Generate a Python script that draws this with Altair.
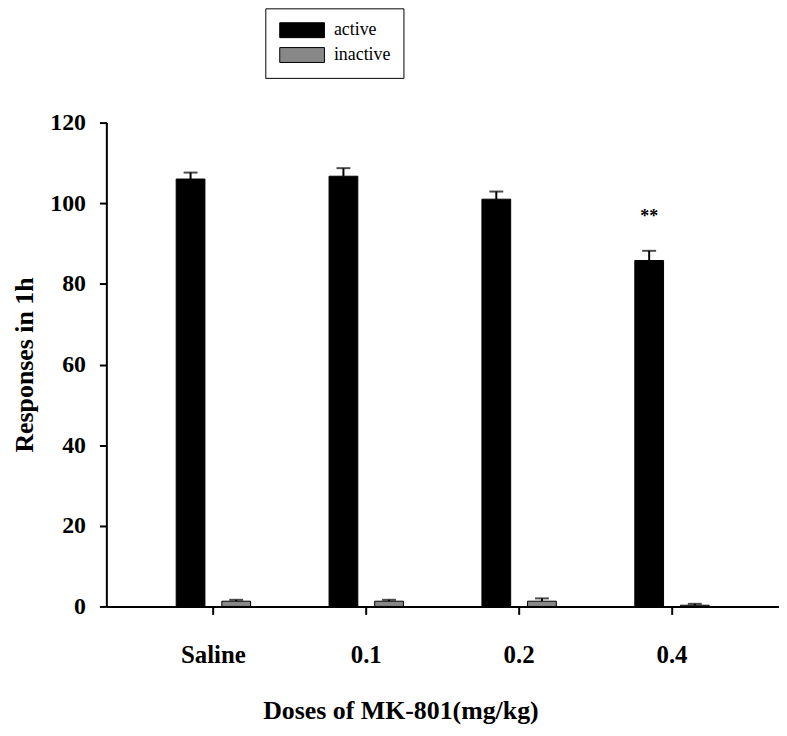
import altair as alt
import pandas as pd

doses = ["Saline", "0.1", "0.2", "0.4"]
types = ["active", "inactive"]
active_mean = [106.0, 106.7, 101.0, 85.8]
active_sem = [1.6, 2.0, 1.9, 2.4]
inactive_mean = [1.3, 1.3, 1.3, 0.3]
inactive_sem = [0.35, 0.35, 0.7, 0.35]
sig_dose = ["0.4"]
sig_label = ["**"]
sig_y = [96.7]

rows = []
for i, d in enumerate(doses):
    rows.append({"dose": d, "type": "active", "mean": active_mean[i],
                 "upper": active_mean[i] + active_sem[i]})
    rows.append({"dose": d, "type": "inactive", "mean": inactive_mean[i],
                 "upper": inactive_mean[i] + inactive_sem[i]})
df = pd.DataFrame(rows)
sig_df = pd.DataFrame({"dose": sig_dose, "type": ["active"], "y": sig_y, "label": sig_label})

FONT = "Liberation Serif"

x_enc = alt.X(
    "dose:N", sort=doses,
    scale=alt.Scale(paddingInner=0, paddingOuter=0.2),
    axis=alt.Axis(
        labelAngle=0, labelFont=FONT, labelFontSize=25, labelFontWeight="bold",
        labelColor="black", labelPadding=28, tickSize=8, tickWidth=2,
        tickColor="black", domainColor="black", domainWidth=2,
        title="Doses of MK-801(mg/kg)", titleFont=FONT, titleFontSize=26,
        titleFontWeight="bold", titleColor="black", titleX=296, titleY=105,
        titleAlign="center", titleBaseline="middle",
    ),
)
xo_enc = alt.XOffset(
    "type:N", sort=types,
    scale=alt.Scale(paddingInner=0.37, paddingOuter=0.86),
)
y_scale = alt.Scale(domain=[0, 120])

bars = alt.Chart(df).mark_bar(stroke="black", strokeWidth=1).encode(
    x=x_enc,
    xOffset=xo_enc,
    y=alt.Y(
        "mean:Q", scale=y_scale,
        axis=alt.Axis(
            values=[0, 20, 40, 60, 80, 100, 120], grid=False,
            labelFont=FONT, labelFontSize=24, labelFontWeight="bold",
            labelColor="black", labelPadding=14, tickSize=7, tickWidth=2,
            tickColor="black", domainColor="black", domainWidth=2,
            title="Responses in 1h", titleFont=FONT, titleFontSize=26,
            titleFontWeight="bold", titleColor="black", titleX=-82,
            titleY=243.5, titleAngle=270, titleAlign="center",
            titleBaseline="middle",
        ),
    ),
    fill=alt.Fill(
        "type:N", sort=types,
        scale=alt.Scale(domain=types, range=["#000000", "#888888"]),
        legend=alt.Legend(
            title=None, orient="none", legendX=160, legendY=-115,
            direction="vertical", strokeColor="black", fillColor="white",
            padding=13, rowPadding=5,
            symbolType="M-3,-1H3V1H-3Z", symbolSize=225,
            symbolOffset=15,
            symbolStrokeColor="black", symbolStrokeWidth=1,
            labelFont=FONT, labelFontSize=18, labelColor="black",
            labelOffset=23,
        ),
    ),
)

err = alt.Chart(df).mark_rule(color="black", strokeWidth=2).encode(
    x=x_enc, xOffset=xo_enc,
    y=alt.Y("mean:Q", scale=y_scale), y2="upper:Q",
)
caps = alt.Chart(df).mark_tick(color="black", thickness=2, size=14).encode(
    x=x_enc, xOffset=xo_enc,
    y=alt.Y("upper:Q", scale=y_scale),
)
stars = alt.Chart(sig_df).mark_text(
    font=FONT, fontSize=18, fontWeight="bold", color="black", baseline="middle"
).encode(
    x=x_enc, xOffset=xo_enc,
    y=alt.Y("y:Q", scale=y_scale),
    text="label:N",
)

chart = alt.layer(bars, err, caps, stars).properties(
    width=677, height=487, autosize="none",
    padding={"left": 99, "top": 113, "right": 0, "bottom": 120},
).configure_view(strokeWidth=0)

chart.save("out.html", embed_options={"renderer": "svg", "actions": False})
